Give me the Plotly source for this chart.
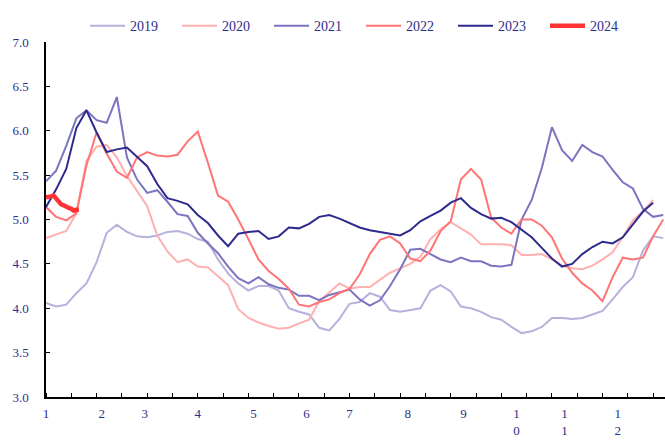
import plotly.graph_objects as go

# trading-day index (0 = first trading day of January)
days = list(range(0, 245, 4))

month_days = [0, 22, 39, 60, 82, 103, 120, 143, 165, 186, 205, 226]
month_labels = ["1", "2", "3", "4", "5", "6", "7", "8", "9", "1<br>0", "1<br>1", "1<br>2"]

y2019 = [4.06, 4.02, 4.04, 4.17, 4.28, 4.52, 4.85, 4.94, 4.86, 4.81,
         4.80, 4.82, 4.86, 4.87, 4.84, 4.78, 4.75, 4.55, 4.39, 4.28,
         4.20, 4.25, 4.25, 4.20, 4.00, 3.96, 3.93, 3.78, 3.75, 3.88,
         4.05, 4.07, 4.17, 4.13, 3.98, 3.96, 3.98, 4.00, 4.20, 4.26,
         4.19, 4.02, 4.00, 3.96, 3.90, 3.87, 3.79, 3.72, 3.74, 3.79,
         3.89, 3.89, 3.88, 3.89, 3.93, 3.97, 4.10, 4.24, 4.35, 4.65,
         4.81, 4.79]

y2020 = [4.79, 4.83, 4.87, 5.07, 5.66, 5.82, 5.84, 5.70, 5.49, 5.32,
         5.15, 4.82, 4.64, 4.52, 4.55, 4.47, 4.46, 4.36, 4.26, 3.99,
         3.89, 3.84, 3.80, 3.77, 3.78, 3.83, 3.87, 4.08, 4.18, 4.28,
         4.22, 4.24, 4.24, 4.32, 4.40, 4.45, 4.50, 4.58, 4.78, 4.89,
         4.97, 4.90, 4.83, 4.72, 4.72, 4.72, 4.71, 4.60, 4.60, 4.61,
         4.55, 4.48, 4.45, 4.44, 4.48, 4.55, 4.63, 4.80, 4.99, 5.09,
         5.22, None]

y2021 = [5.43, 5.55, 5.83, 6.14, 6.23, 6.12, 6.09, 6.38, 5.70, 5.45,
         5.30, 5.33, 5.20, 5.06, 5.04, 4.85, 4.73, 4.62, 4.47, 4.34,
         4.28, 4.35, 4.27, 4.23, 4.21, 4.14, 4.14, 4.09, 4.15, 4.18,
         4.21, 4.10, 4.03, 4.09, 4.25, 4.44, 4.66, 4.67, 4.61, 4.55,
         4.52, 4.57, 4.53, 4.53, 4.48, 4.47, 4.49, 5.00, 5.22, 5.58,
         6.04, 5.78, 5.66, 5.84, 5.76, 5.71, 5.56, 5.42, 5.35, 5.12,
         5.03, 5.05]

y2022 = [5.14, 5.03, 4.99, 5.07, 5.61, 5.98, 5.74, 5.54, 5.47, 5.70,
         5.76, 5.72, 5.71, 5.73, 5.88, 5.99, 5.64, 5.27, 5.20, 5.00,
         4.78, 4.55, 4.42, 4.33, 4.22, 4.04, 4.02, 4.07, 4.10, 4.17,
         4.22, 4.38, 4.61, 4.77, 4.81, 4.73, 4.56, 4.53, 4.65, 4.87,
         4.98, 5.45, 5.57, 5.45, 5.02, 4.91, 4.84, 5.00, 5.00, 4.93,
         4.80, 4.56, 4.40, 4.28, 4.20, 4.08, 4.35, 4.57, 4.55, 4.57,
         4.81, 5.00]

y2023 = [5.14, 5.34, 5.57, 6.03, 6.23, 5.98, 5.76, 5.79, 5.81, 5.70,
         5.60, 5.40, 5.24, 5.21, 5.17, 5.05, 4.96, 4.82, 4.70, 4.84,
         4.86, 4.87, 4.78, 4.81, 4.91, 4.90, 4.95, 5.03, 5.05, 5.01,
         4.96, 4.91, 4.88, 4.86, 4.84, 4.82, 4.88, 4.98, 5.04, 5.10,
         5.19, 5.24, 5.13, 5.06, 5.01, 5.02, 4.97, 4.88, 4.80, 4.68,
         4.56, 4.47, 4.50, 4.61, 4.69, 4.75, 4.73, 4.80, 4.94, 5.09,
         5.19, None]

days2024 = list(range(0, 14))
y2024 = [5.25, 5.25, 5.26, 5.27, 5.23, 5.20, 5.17, 5.16, 5.14, 5.13, 5.12, 5.10, 5.11, 5.11]

series = [
    ("2019", days, y2019, "#b6b1dc", 2),
    ("2020", days, y2020, "#ffb0b0", 2),
    ("2021", days, y2021, "#7b74c0", 2),
    ("2022", days, y2022, "#ff7474", 2),
    ("2023", days, y2023, "#2e2a8e", 2),
    ("2024", days2024, y2024, "#ff3333", 4.5),
]

NAVY = "#2e2d8c"
FONT = "Liberation Serif"

fig = go.Figure()
for name, xs, ys, color, w in series:
    fig.add_trace(go.Scatter(x=xs, y=ys, mode="lines", name=name,
                             line=dict(color=color, width=w), connectgaps=False))

fig.update_layout(
    width=665, height=440,
    margin=dict(l=46, r=0, t=42, b=43),
    paper_bgcolor="white", plot_bgcolor="white",
    font=dict(family=FONT, size=13, color=NAVY),
    showlegend=True,
    legend=dict(orientation="h", x=0.063, xanchor="left", y=1.045, yanchor="middle",
                font=dict(family=FONT, size=14, color=NAVY),
                bgcolor="rgba(0,0,0,0)", itemwidth=35,
                entrywidth=42, entrywidthmode="pixels"),
)
fig.update_xaxes(
    range=[0, 244.7], tickmode="array", tickvals=month_days, ticktext=month_labels,
    ticks="", showline=True, linecolor="black", linewidth=1.5,
    showgrid=False, zeroline=False, ticklabelstandoff=4,
    tickfont=dict(family=FONT, size=13, color=NAVY),
    minor=dict(ticks="inside", tickmode="linear", tick0=0, dtick=10, ticklen=4,
               tickcolor="black", tickwidth=1, showgrid=False),
)
fig.update_yaxes(
    range=[3, 7], dtick=0.5, tick0=3, tickformat=".1f",
    ticks="inside", ticklen=4, tickcolor="black", tickwidth=1,
    showline=True, linecolor="black", linewidth=1.5,
    showgrid=False, zeroline=False, ticklabelstandoff=13,
    tickfont=dict(family=FONT, size=13, color=NAVY),
)

fig.write_html("out.html",
               config={"displayModeBar": False},
               post_script="document.body.style.margin='0';document.body.style.overflow='hidden';")
